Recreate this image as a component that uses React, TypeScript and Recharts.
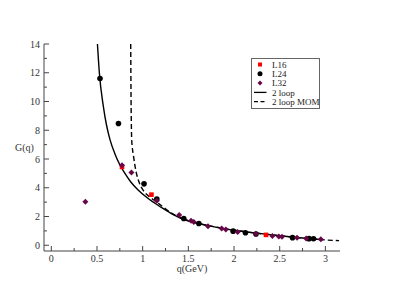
import { ComposedChart, Line, Scatter, XAxis, YAxis } from "recharts";

// ---- data ----
const xTicks = [0, 0.25, 0.5, 0.75, 1, 1.25, 1.5, 1.75, 2, 2.25, 2.5, 2.75, 3];
const yTicks = [0, 1, 2, 3, 4, 5, 6, 7, 8, 9, 10, 11, 12, 13, 14];

const L16 = [
  { q: 0.774, G: 5.45 },
  { q: 1.096, G: 3.52 },
  { q: 2.35, G: 0.72 },
];

const L24 = [
  { q: 0.533, G: 11.6 },
  { q: 0.735, G: 8.47 },
  { q: 1.015, G: 4.27 },
  { q: 1.155, G: 3.22 },
  { q: 1.45, G: 1.86 },
  { q: 1.615, G: 1.51 },
  { q: 1.99, G: 0.98 },
  { q: 2.125, G: 0.87 },
  { q: 2.24, G: 0.78 },
  { q: 2.64, G: 0.53 },
  { q: 2.82, G: 0.46 },
  { q: 2.87, G: 0.45 },
];

const L32 = [
  { q: 0.373, G: 3.02 },
  { q: 0.774, G: 5.57 },
  { q: 0.877, G: 5.06 },
  { q: 1.155, G: 3.1 },
  { q: 1.4, G: 2.1 },
  { q: 1.53, G: 1.7 },
  { q: 1.56, G: 1.62 },
  { q: 1.715, G: 1.33 },
  { q: 1.865, G: 1.17 },
  { q: 1.91, G: 1.1 },
  { q: 2.04, G: 0.93 },
  { q: 2.24, G: 0.8 },
  { q: 2.42, G: 0.65 },
  { q: 2.49, G: 0.61 },
  { q: 2.525, G: 0.6 },
  { q: 2.69, G: 0.53 },
  { q: 2.79, G: 0.47 },
  { q: 2.95, G: 0.42 },
];

const twoLoop = [
  { q: 0.505, G: 14 },
  { q: 0.526, G: 11.98 },
  { q: 0.57, G: 9.65 },
  { q: 0.603, G: 8.4 },
  { q: 0.643, G: 7.33 },
  { q: 0.7, G: 6.3 },
  { q: 0.75, G: 5.6 },
  { q: 0.804, G: 5.01 },
  { q: 0.87, G: 4.4 },
  { q: 0.95, G: 3.85 },
  { q: 1.05, G: 3.3 },
  { q: 1.2, G: 2.65 },
  { q: 1.33, G: 2.15 },
  { q: 1.443, G: 1.81 },
  { q: 1.6, G: 1.53 },
  { q: 1.772, G: 1.3 },
  { q: 2.0, G: 1.04 },
  { q: 2.248, G: 0.84 },
  { q: 2.5, G: 0.66 },
  { q: 2.75, G: 0.5 },
  { q: 2.97, G: 0.38 },
];

const twoLoopMom = [
  { q: 0.869, G: 14 },
  { q: 0.871, G: 12 },
  { q: 0.873, G: 10 },
  { q: 0.876, G: 8.5 },
  { q: 0.88, G: 7.3 },
  { q: 0.9, G: 6.2 },
  { q: 0.93, G: 5.05 },
  { q: 0.96, G: 4.4 },
  { q: 1.0, G: 3.88 },
  { q: 1.07, G: 3.4 },
  { q: 1.144, G: 3.05 },
  { q: 1.22, G: 2.68 },
  { q: 1.3, G: 2.3 },
  { q: 1.45, G: 1.82 },
  { q: 1.6, G: 1.53 },
  { q: 1.8, G: 1.27 },
  { q: 2.0, G: 1.05 },
  { q: 2.25, G: 0.84 },
  { q: 2.5, G: 0.66 },
  { q: 2.75, G: 0.5 },
  { q: 3.0, G: 0.37 },
  { q: 3.15, G: 0.32 },
];

const RED = "#ff0000";
const MAROON = "#670748";
const AXIS = "#444";
const FONT = "'Liberation Serif', 'DejaVu Serif', serif";

const isMajor = (v: number, step: number) => Math.abs(v / step - Math.round(v / step)) < 1e-6;

// inward ticks, xmgrace style
const bottomTick = (p: any) => {
  const v = p.payload.value;
  const major = isMajor(v, 0.5);
  return (
    <g>
      <line x1={p.x} x2={p.x} y1={p.y} y2={p.y - (major ? 5 : 3)} stroke={AXIS} />
      {major && (
        <text x={p.x} y={p.y + 11} textAnchor="middle" fontSize={10} fontFamily={FONT} fill="#333">
          {v}
        </text>
      )}
    </g>
  );
};

const topTick = (p: any) => {
  const major = isMajor(p.payload.value, 0.5);
  return <line x1={p.x} x2={p.x} y1={p.y} y2={p.y + (major ? 5 : 3)} stroke={AXIS} />;
};

const leftTick = (p: any) => {
  const v = p.payload.value;
  const major = isMajor(v, 2);
  return (
    <g>
      <line x1={p.x} x2={p.x + (major ? 5 : 3)} y1={p.y} y2={p.y} stroke={AXIS} />
      {major && (
        <text x={p.x - 4} y={p.y + 3.5} textAnchor="end" fontSize={10} fontFamily={FONT} fill="#333">
          {v}
        </text>
      )}
    </g>
  );
};

const rightTick = (p: any) => {
  const major = isMajor(p.payload.value, 2);
  return <line x1={p.x} x2={p.x - (major ? 5 : 3)} y1={p.y} y2={p.y} stroke={AXIS} />;
};

const square = (p: any) => <rect x={p.cx - 2.3} y={p.cy - 2.3} width={4.6} height={4.6} fill={RED} />;
const circle = (p: any) => <circle cx={p.cx} cy={p.cy} r={2.8} fill="#000" />;
const diamond = (p: any) => (
  <path
    d={`M${p.cx},${p.cy - 3}L${p.cx + 3},${p.cy}L${p.cx},${p.cy + 3}L${p.cx - 3},${p.cy}Z`}
    fill={MAROON}
  />
);

const legendRows = [
  { name: "L16", kind: "square" },
  { name: "L24", kind: "circle" },
  { name: "L32", kind: "diamond" },
  { name: "2 loop", kind: "solid" },
  { name: "2 loop MOM", kind: "dashed" },
];

function LegendBox() {
  return (
    <svg width={69} height={51} style={{ display: "block" }}>
      <rect x={0.5} y={0.5} width={68} height={50} fill="#fff" stroke="#666" />
      {legendRows.map((r, i) => {
        const y = 6.5 + i * 9.3;
        return (
          <g key={r.name}>
            {r.kind === "square" && <rect x={7} y={y - 2} width={4} height={4} fill={RED} />}
            {r.kind === "circle" && <circle cx={9} cy={y} r={2.5} fill="#000" />}
            {r.kind === "diamond" && (
              <path d={`M9,${y - 2.5}L11.5,${y}L9,${y + 2.5}L6.5,${y}Z`} fill={MAROON} />
            )}
            {r.kind === "solid" && <line x1={3} x2={15.5} y1={y} y2={y} stroke="#000" strokeWidth={1.3} />}
            {r.kind === "dashed" && (
              <line x1={3} x2={15.5} y1={y} y2={y} stroke="#000" strokeWidth={1.3} strokeDasharray="4 2.5" />
            )}
            <text x={21} y={y + 3.2} fontSize={9} fontFamily={FONT} fill="#222">
              {r.name}
            </text>
          </g>
        );
      })}
    </svg>
  );
}

export default function App() {
  return (
    <div style={{ position: "relative", width: 393, height: 304, background: "#fff" }}>
      <style>{`body{margin:0}`}</style>
      <ComposedChart width={393} height={304} margin={{ top: 44, right: 53, bottom: 0, left: 0 }}>
        <XAxis
          xAxisId={0}
          dataKey="q"
          type="number"
          domain={[-0.08, 3.16]}
          allowDataOverflow
          ticks={xTicks}
          interval={0}
          height={53}
          tickSize={0}
          tickMargin={0}
          tick={bottomTick}
          axisLine={{ stroke: AXIS }}
          tickLine={false}
          label={{ value: "q(GeV)", position: "insideBottom", offset: 32, fontSize: 10, fontFamily: FONT, fill: "#333" }}
        />
        <XAxis
          xAxisId="top"
          orientation="top"
          dataKey="q"
          type="number"
          domain={[-0.08, 3.16]}
          allowDataOverflow
          ticks={xTicks}
          interval={0}
          height={0}
          tickSize={0}
          tickMargin={0}
          tick={topTick}
          axisLine={{ stroke: AXIS }}
          tickLine={false}
        />
        <YAxis
          yAxisId={0}
          type="number"
          domain={[-0.4, 14]}
          allowDataOverflow
          ticks={yTicks}
          interval={0}
          width={44}
          tickSize={0}
          tickMargin={0}
          tick={leftTick}
          axisLine={{ stroke: AXIS }}
          tickLine={false}
          label={{ value: "G(q)", position: "insideLeft", offset: 15, fontSize: 10, fontFamily: FONT, fill: "#333" }}
        />
        <YAxis
          yAxisId="right"
          orientation="right"
          type="number"
          domain={[-0.4, 14]}
          allowDataOverflow
          ticks={yTicks}
          interval={0}
          width={0}
          tickSize={0}
          tickMargin={0}
          tick={rightTick}
          axisLine={{ stroke: AXIS }}
          tickLine={false}
        />
        <Line
          data={twoLoop}
          dataKey="G"
          name="2 loop"
          type="monotone"
          stroke="#000"
          strokeWidth={1.4}
          dot={false}
          isAnimationActive={false}
        />
        <Line
          data={twoLoopMom}
          dataKey="G"
          name="2 loop MOM"
          type="monotone"
          stroke="#000"
          strokeWidth={1.4}
          strokeDasharray="5 3"
          dot={false}
          isAnimationActive={false}
        />
        <Scatter data={L16} dataKey="G" name="L16" shape={square} isAnimationActive={false} />
        <Scatter data={L24} dataKey="G" name="L24" shape={circle} isAnimationActive={false} />
        <Scatter data={L32} dataKey="G" name="L32" shape={diamond} isAnimationActive={false} />
      </ComposedChart>
      <div style={{ position: "absolute", left: 251, top: 58 }}>
        <LegendBox />
      </div>
    </div>
  );
}
